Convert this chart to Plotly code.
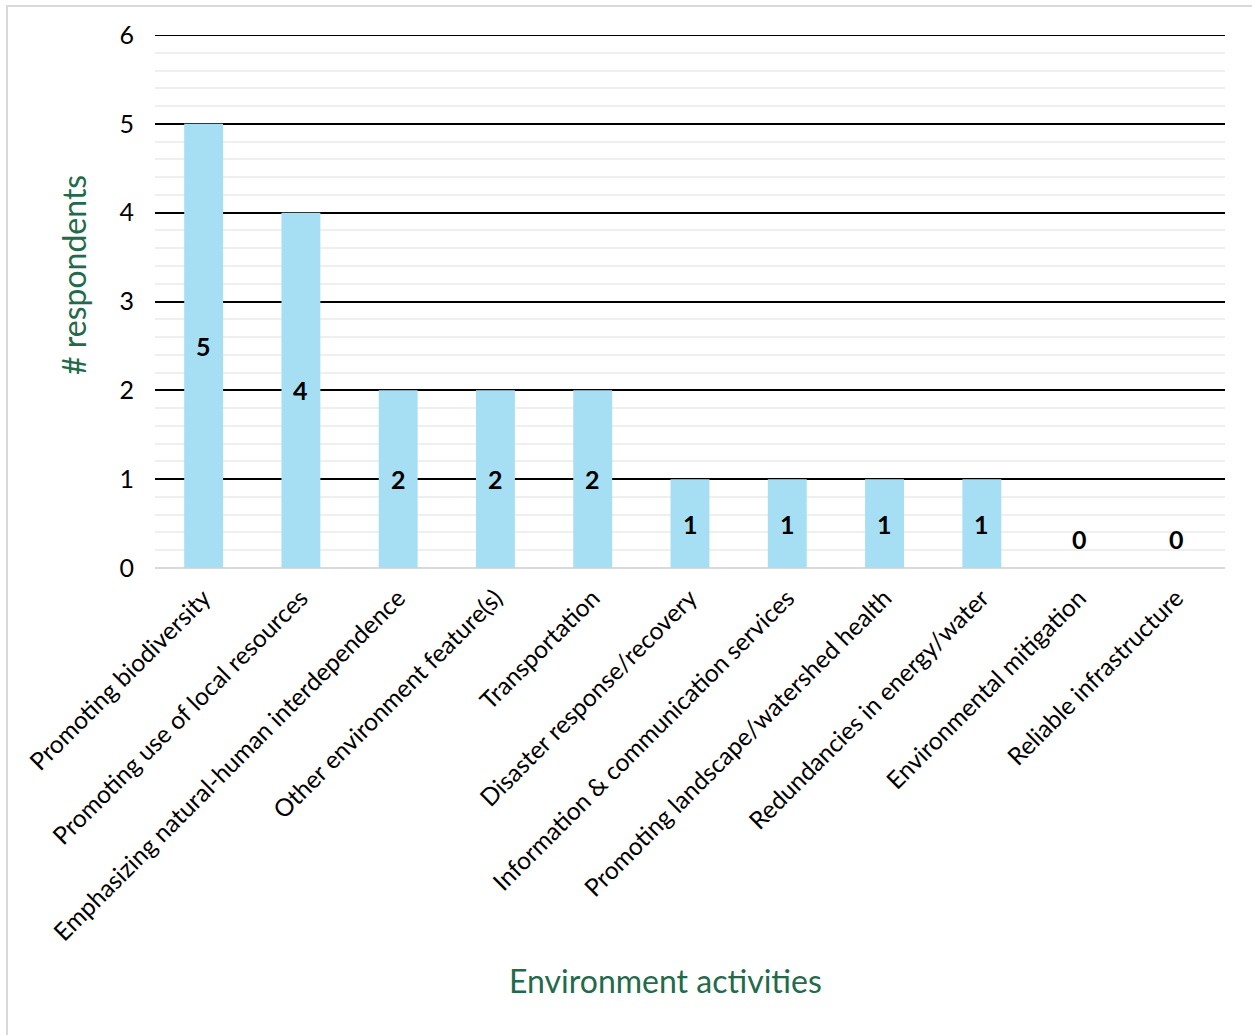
import plotly.graph_objects as go

# Survey counts per environment activity
categories = [
    "Promoting biodiversity",
    "Promoting use of local resources",
    "Emphasizing natural-human interdependence",
    "Other environment feature(s)",
    "Transportation",
    "Disaster response/recovery",
    "Information & communication services",
    "Promoting landscape/watershed health",
    "Redundancies in energy/water",
    "Environmental mitigation",
    "Reliable infrastructure",
]
respondents = [5, 4, 2, 2, 2, 1, 1, 1, 1, 0, 0]
y_ticks = [0, 1, 2, 3, 4, 5, 6]

FONT = "Lato"
BAR_COLOR = "#a6dff3"
TITLE_COLOR = "#236a4b"

W, H = 1252, 1035
L, R, T, B = 155, 27, 35, 467
pw, ph = W - L - R, H - T - B

fig = go.Figure()
fig.add_trace(go.Bar(
    x=categories,
    y=respondents,
    marker=dict(color=BAR_COLOR, line=dict(width=0)),
    hoverinfo="x+y",
))

# Value labels: centred in each bar, lifted above the baseline for empty bars
for cat, v in zip(categories, respondents):
    fig.add_annotation(
        x=cat, y=v / 2 if v > 0 else 0, xref="x", yref="y",
        text=f"<b>{v}</b>", showarrow=False,
        font=dict(family=FONT, size=25, color="#000000"),
        yshift=29 if v == 0 else 0,
    )

# Axis titles
fig.add_annotation(
    x=(73 - L) / pw, y=(H - B - 275) / ph, xref="paper", yref="paper",
    xanchor="center", yanchor="middle",
    text="# respondents", textangle=-90, showarrow=False,
    font=dict(family=FONT, size=32, color=TITLE_COLOR),
)
fig.add_annotation(
    x=(665 - L) / pw, y=-(981 - (H - B)) / ph, xref="paper", yref="paper",
    xanchor="center", yanchor="middle",
    text="Environment activities", showarrow=False,
    font=dict(family=FONT, size=32, color=TITLE_COLOR),
)

# Major gridline at the top of the value range
fig.add_shape(
    type="line", xref="paper", yref="y", layer="below",
    x0=0, x1=1, y0=y_ticks[-1], y1=y_ticks[-1],
    line=dict(color="#000000", width=2),
)

# Light frame around the chart
fig.add_shape(
    type="rect", xref="paper", yref="paper", layer="below",
    x0=(7 - L) / pw, x1=(W + 20 - L) / pw,
    y0=-(H + 20 - (H - B)) / ph, y1=1 + (T - 6) / ph,
    line=dict(color="#d9d9d9", width=2), fillcolor="rgba(0,0,0,0)",
)

fig.update_layout(
    width=W, height=H,
    margin=dict(l=L, r=R, t=T, b=B, autoexpand=False),
    paper_bgcolor="white", plot_bgcolor="white",
    bargap=0.6, showlegend=False,
    font=dict(family=FONT, size=24, color="#000000"),
)
fig.update_xaxes(
    type="category", tickangle=-45, showgrid=False, showline=False,
    ticks="", tickfont=dict(family=FONT, size=24.5, color="#000000"),
    ticklabelstandoff=10,
)
fig.update_yaxes(
    range=[0, 6], tickvals=y_ticks, showline=False, ticks="",
    showgrid=True, gridcolor="#000000", gridwidth=2,
    minor=dict(dtick=0.2, showgrid=True, gridcolor="#efefef", gridwidth=2),
    zeroline=True, zerolinecolor="#d9d9d9", zerolinewidth=2,
    tickfont=dict(family=FONT, size=25, color="#000000"),
    ticklabelstandoff=20,
)

fig.write_html("out.html")
